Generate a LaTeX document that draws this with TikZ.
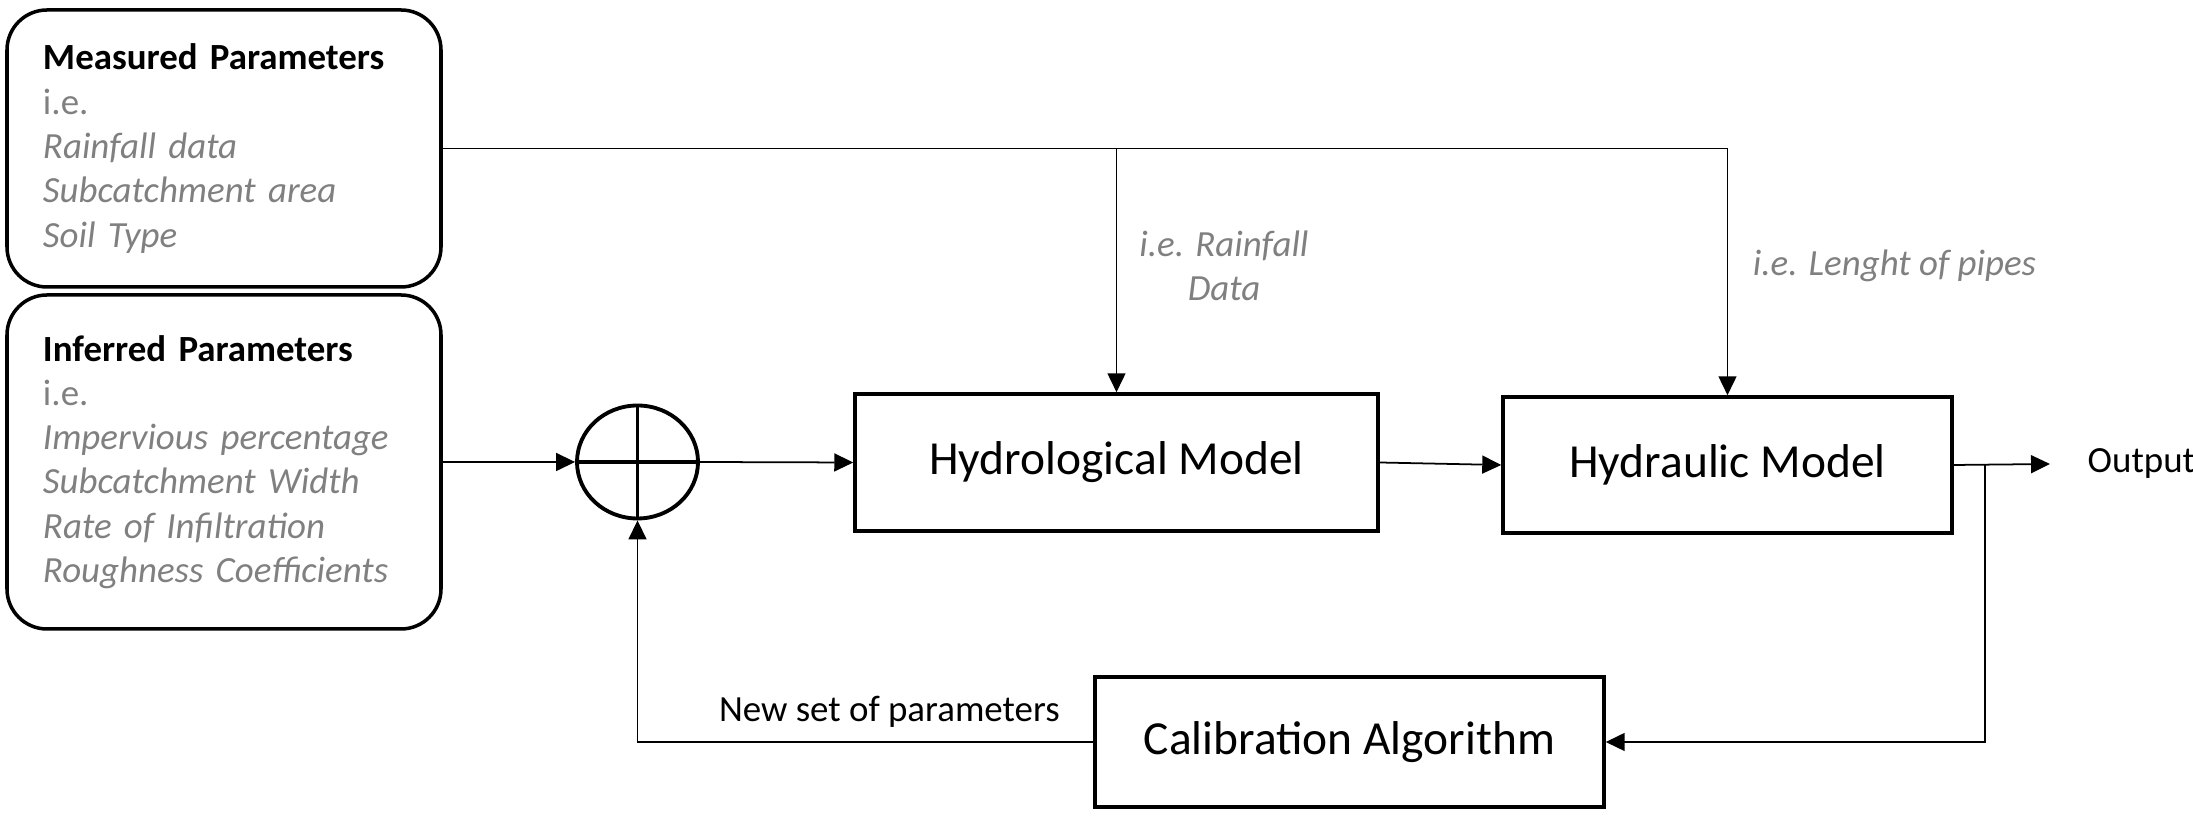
\documentclass[tikz,border=0pt]{standalone}
\usepackage{fontspec}
\setmainfont{Carlito}
\usetikzlibrary{positioning, shapes.geometric, arrows.meta}
\definecolor{paramgray}{RGB}{128,128,128}

\tikzset{
  parambox/.style={draw, rounded corners=0.4cm, line width=1pt, text=paramgray,
    text width=3.62cm, inner xsep=0.36cm, minimum width=4.34cm, align=left,
    font=\fontsize{10.5}{12.6}\selectfont},
  modelbox/.style={draw, line width=1pt, font=\fontsize{13.5}{16}\selectfont},
  flow/.style={-{Triangle[length=5.4pt,width=5.1pt]}, line width=0.5pt},
  hint/.style={text=paramgray, align=center, font=\fontsize{10.5}{12.6}\selectfont\itshape}
}

\begin{document}
\begin{tikzpicture}
    \useasboundingbox (0,0) rectangle (21.93,-8.18);

    % Define nodes
    \node[parambox, minimum height=2.77cm] (meas) at (2.24,-1.485)
        {\textbf{\textcolor{black}{Measured Parameters}}\\ i.e.\\ \textit{Rainfall data}\\ \textit{Subcatchment area}\\ \textit{Soil Type}};
    \node[parambox, minimum height=3.34cm] (infer) at (2.24,-4.62)
        {\textbf{\textcolor{black}{Inferred Parameters}}\\ i.e.\\ \textit{Impervious percentage}\\ \textit{Subcatchment Width}\\ \textit{Rate of Infiltration}\\ \textit{Roughness Coefficients}};
    \node[ellipse, draw, line width=1.1pt, minimum width=1.21cm, minimum height=1.13cm, inner sep=0pt] (sum) at (6.375,-4.62) {};
    \node[modelbox, minimum width=5.23cm, minimum height=1.37cm] (hydro) at (11.165,-4.625) {Hydrological Model};
    \node[modelbox, minimum width=4.49cm, minimum height=1.36cm] (hydra) at (17.275,-4.65) {Hydraulic Model};
    \node[modelbox, minimum width=5.09cm, minimum height=1.30cm] (calib) at (13.495,-7.42) {Calibration Algorithm};
    \node[anchor=west, inner xsep=0.37cm, font=\fontsize{10.5}{12.6}\selectfont] (out) at (20.50,-4.64) {Output};
    \coordinate (tap) at (19.85,-4.64);

    % Labels
    \node[hint] (rainlbl) at (12.24,-2.655) {i.e. Rainfall\\ Data};
    \node[hint] (pipelbl) at (18.945,-2.66) {i.e. Lenght of pipes};
    \node[anchor=east, font=\fontsize{10.5}{12.6}\selectfont] (newset) at (10.72,-7.12) {New set of parameters};

    % Summing junction cross
    \draw[line width=1.1pt] (sum.north) -- (sum.south);
    \draw[line width=1.1pt] (sum.west) -- (sum.east);

    % Draw edges
    \draw[flow] (meas.east) -| (hydro.north);
    \draw[flow] (meas.east) -| (hydra.north);
    \draw[flow] (infer.east) -- (sum.west);
    \draw[flow] (sum.east) -- (hydro.west);
    \draw[flow] (hydro.east) -- (hydra.west);
    \draw[flow] (hydra.east) -- (out.west);
    \draw[flow] (tap) |- (calib.east);
    \draw[flow] (calib.west) -| (sum.south);
\end{tikzpicture}
\end{document}
